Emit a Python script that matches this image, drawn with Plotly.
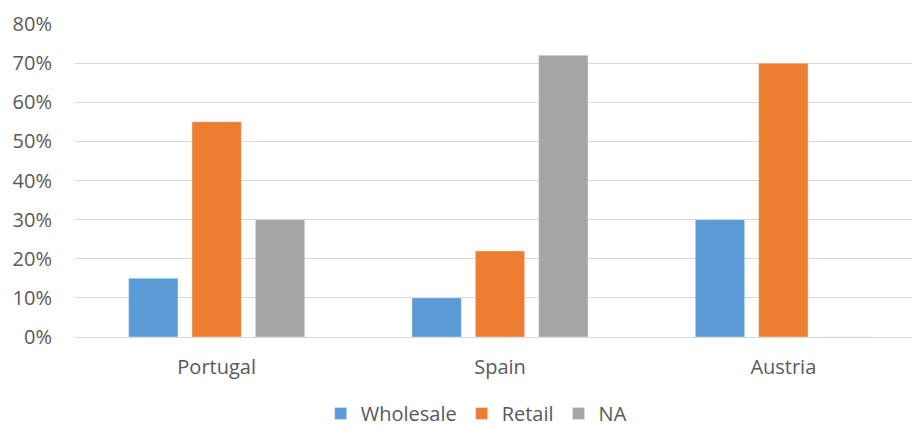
import plotly.graph_objects as go

categories = ["Portugal", "Spain", "Austria"]
wholesale = [0.15, 0.10, 0.30]
retail = [0.55, 0.22, 0.70]
na = [0.30, 0.72, 0]
tick_vals = [0, 0.1, 0.2, 0.3, 0.4, 0.5, 0.6, 0.7, 0.8]

fig = go.Figure()
fig.add_bar(name="Wholesale", x=categories, y=wholesale, marker_color="#5B9BD5")
fig.add_bar(name="Retail", x=categories, y=retail, marker_color="#ED7D31")
fig.add_bar(name="NA", x=categories, y=na, marker_color="#A5A5A5")

font_family = "Open Sans, Liberation Sans, sans-serif"
fig.update_layout(
    width=925, height=428,
    margin=dict(l=75, r=0, t=24, b=91, autoexpand=False),
    plot_bgcolor="white", paper_bgcolor="white",
    barmode="group", bargap=0.329, bargroupgap=0.221,
    font=dict(family=font_family, size=20, color="#595959"),
    showlegend=True,
    legend=dict(orientation="h", x=0.472, xanchor="center",
                yref="container", y=0.034, yanchor="middle",
                font=dict(size=20, color="#595959"), traceorder="normal",
                itemwidth=30),
    hovermode=False,
)
fig.update_yaxes(range=[0, 0.8], tickvals=tick_vals, tickformat=".0%",
                 showgrid=True, gridcolor="#D9D9D9", gridwidth=1,
                 zeroline=False, showline=False, ticks="", ticklabelstandoff=22)
fig.update_xaxes(showline=True, linecolor="#D9D9D9", linewidth=1, ticks="",
                 ticklabelstandoff=12)

fig.write_html("out.html", config={"displayModeBar": False},
               post_script="document.body.style.margin='0';document.body.style.overflow='hidden';")
